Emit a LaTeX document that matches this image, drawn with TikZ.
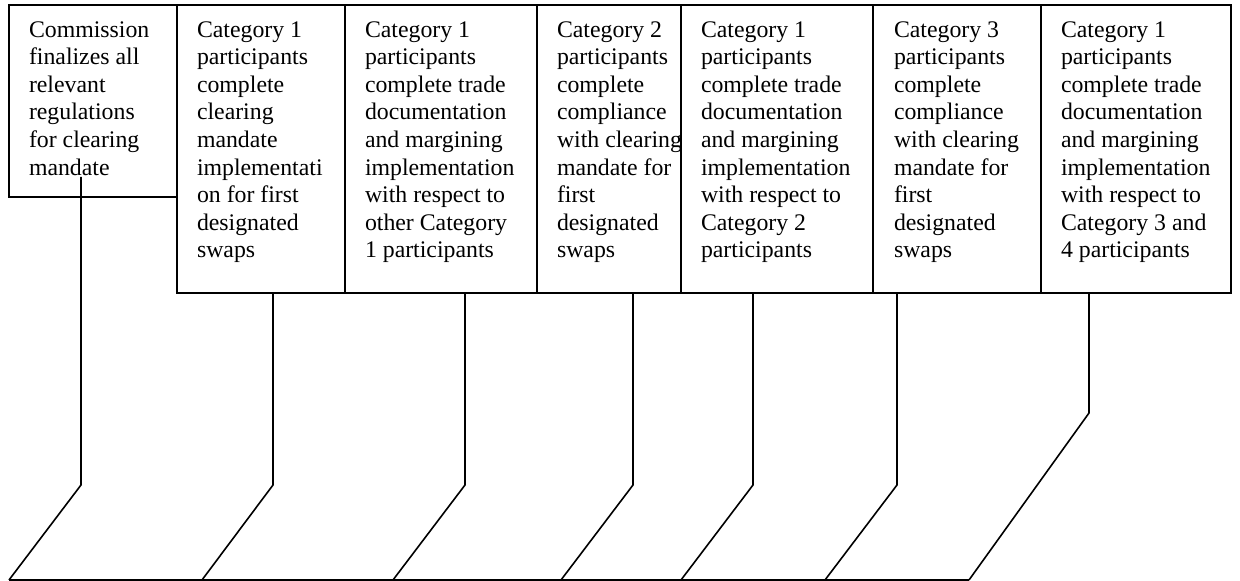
\documentclass[tikz,border=0pt]{standalone}
\usepackage{fontspec}
\setmainfont{Liberation Serif}
\begin{document}
\begin{tikzpicture}[x=0.75pt,y=-0.75pt,
  stagebox/.style={draw=black, line width=1.3pt, inner sep=0pt, outer sep=0pt, fill=none},
  stagetext/.style={anchor=north west, inner sep=0pt, outer sep=0pt, align=left,
    font=\fontsize{17.85pt}{20.7pt}\selectfont},
  link/.style={draw=black, line width=1.2pt, line join=miter},
  baseline/.style={draw=black, line width=1pt}]
\useasboundingbox (0,0) rectangle (1240,581);
\fill[white] (0,0) rectangle (1240,581);
% boxes
\node[stagebox, fit/.style={}, minimum width=126pt, minimum height=144pt, anchor=north west] (b1) at (9,5) {};
\node[stagebox, minimum width=126pt, minimum height=216pt, anchor=north west] (b2) at (177,5) {};
\node[stagebox, minimum width=144pt, minimum height=216pt, anchor=north west] (b3) at (345,5) {};
\node[stagebox, minimum width=108pt, minimum height=216pt, anchor=north west] (b4) at (537,5) {};
\node[stagebox, minimum width=144pt, minimum height=216pt, anchor=north west] (b5) at (681,5) {};
\node[stagebox, minimum width=126pt, minimum height=216pt, anchor=north west] (b6) at (873,5) {};
\node[stagebox, minimum width=142.5pt, minimum height=216pt, anchor=north west] (b7) at (1041,5) {};
% texts
\def\fl{\rule{0pt}{13pt}}
\node[stagetext] (t1) at (29,19.7) {\fl Commission\\finalizes all\\relevant\\regulations\\for clearing\\mandate};
\node[stagetext] (t2) at (197,19.7) {\fl Category 1\\participants\\complete\\clearing\\mandate\\implementati\\on for first\\designated\\swaps};
\node[stagetext] (t3) at (365,19.7) {\fl Category 1\\participants\\complete trade\\documentation\\and margining\\implementation\\with respect to\\other Category\\1 participants};
\node[stagetext] (t4) at (557,19.7) {\fl Category 2\\participants\\complete\\compliance\\with clearing\\mandate for\\first\\designated\\swaps};
\node[stagetext] (t5) at (701,19.7) {\fl Category 1\\participants\\complete trade\\documentation\\and margining\\implementation\\with respect to\\Category 2\\participants};
\node[stagetext] (t6) at (894,19.7) {\fl Category 3\\participants\\complete\\compliance\\with clearing\\mandate for\\first\\designated\\swaps};
\node[stagetext] (t7) at (1061,19.7) {\fl Category 1\\participants\\complete trade\\documentation\\and margining\\implementation\\with respect to\\Category 3 and\\4 participants};
% connector points
\coordinate (s1) at (81,177);
\coordinate (s2) at (273,293);
\coordinate (s3) at (465,293);
\coordinate (s4) at (633,293);
\coordinate (s5) at (753,293);
\coordinate (s6) at (897,293);
\coordinate (s7) at (1089,293);
\coordinate (k1) at (81,485);
\coordinate (k2) at (273,485);
\coordinate (k3) at (465,485);
\coordinate (k4) at (633,485);
\coordinate (k5) at (753,485);
\coordinate (k6) at (897,485);
\coordinate (k7) at (1089,413);
\coordinate (e1) at (9,580);
\coordinate (e2) at (202,580);
\coordinate (e3) at (393,580);
\coordinate (e4) at (561,580);
\coordinate (e5) at (681,580);
\coordinate (e6) at (825,580);
\coordinate (e7) at (969,580);
\foreach \i in {1,...,7} {\draw[link] (s\i) -- (k\i) -- (e\i);}
\draw[baseline] (e1) -- (e7);
\end{tikzpicture}
\end{document}
